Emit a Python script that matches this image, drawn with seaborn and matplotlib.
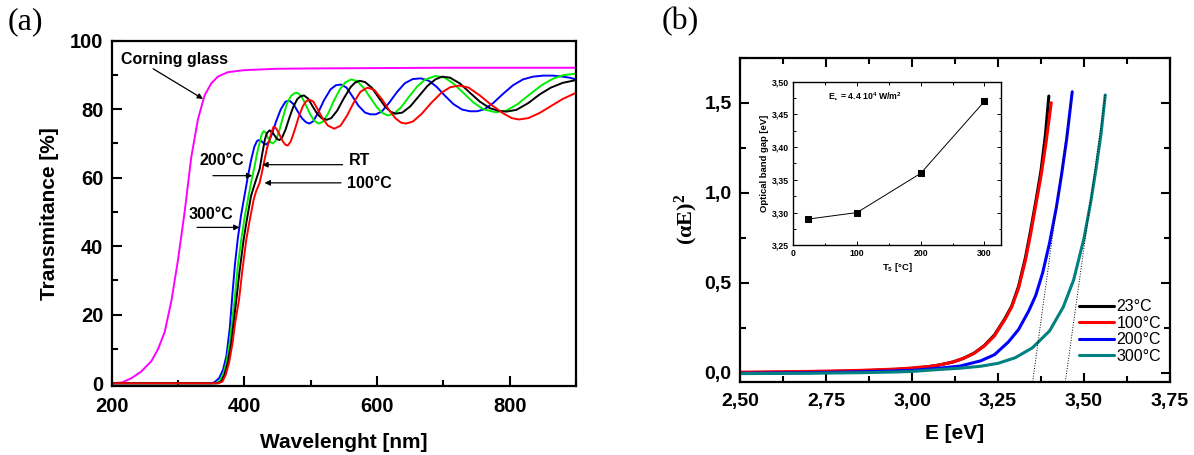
import matplotlib
matplotlib.use("Agg")
import matplotlib.pyplot as plt
import seaborn as sns
from matplotlib.ticker import MultipleLocator, FuncFormatter

# ---- (a) transmittance spectra ----
glass_nm = [200, 215, 230, 245, 260, 270, 280, 290, 300, 310, 320, 330, 340, 350, 360, 375, 400, 450, 500, 600, 700, 800, 900]
glass_T = [0, 0.2, 1.5, 3.5, 6.5, 10, 15, 24, 36, 50, 66, 77, 84, 87.5, 89.5, 90.8, 91.4, 91.8, 91.9, 92.0, 92.1, 92.1, 92.1]

t300_nm = [200, 350, 355, 362, 368, 373, 378, 382, 386, 390, 395, 400, 405, 410, 415, 419, 422, 426, 430, 433, 437, 442, 448, 455, 462, 468, 474, 480, 487, 493, 498, 504, 512, 520, 530, 538, 546, 554, 562, 572, 582, 590, 598, 607, 618, 630, 642, 654, 666, 678, 690, 702, 715, 728, 740, 751, 762, 775, 790, 805, 820, 835, 850, 865, 880, 890, 900]
t300_T = [0, 0, 0.3, 1.5, 4, 8, 16, 26, 35, 42, 49, 54.5, 60, 65, 69, 70.7, 71, 70.6, 69.9, 69.7, 70.5, 73, 76.5, 80, 82.2, 82.5, 81.5, 79.5, 77.3, 76.2, 75.8, 76.5, 79.3, 82.6, 85.8, 87, 87.2, 86.3, 84, 81, 79, 78.5, 78.5, 79.3, 81.8, 85, 87.6, 88.8, 89, 88.3, 86.5, 84, 81.5, 79.9, 79.4, 79.4, 80, 81.8, 84.5, 87, 88.7, 89.5, 89.8, 89.8, 89.5, 89.2, 88.7]

t200_nm = [200, 356, 362, 368, 373, 378, 382, 385.3, 390, 395.4, 400, 405.3, 410, 415.4, 419, 423, 426, 429, 432, 436, 440, 443, 447, 452, 458, 464, 470, 475, 480, 486, 492, 499, 505, 512, 518, 526, 535, 544, 552, 561, 570, 580, 590, 600, 608, 616, 625, 636, 648, 660, 672, 688, 702, 715, 730, 745, 760, 779, 795, 812, 830, 848, 865, 880, 900]
t200_T = [0, 0, 0.5, 2.5, 6, 12, 19, 24.4, 34, 42, 48, 53.6, 58.5, 63.3, 67, 70.2, 72.5, 73.6, 73.2, 71.5, 70.3, 70, 70.8, 73.3, 77.5, 81.5, 83.8, 84.6, 84.8, 83.8, 81.5, 78.6, 76.7, 75.8, 76.3, 78.6, 82.5, 85.8, 87.8, 88.7, 88.2, 86.2, 83.3, 80.5, 78.9, 78.2, 78.6, 80.5, 83.6, 86.5, 88.6, 89.7, 89.2, 87.5, 84.8, 82, 80, 79.1, 79.6, 81.5, 84.3, 87, 88.9, 89.9, 90.4]

rt_nm = [200, 359, 365, 370, 375, 380, 384, 388, 393, 399, 404, 410, 415, 419, 423, 427, 431, 434, 438, 442, 446, 450, 453, 457, 462, 468, 474, 480, 485, 490, 496, 503, 510, 517, 524, 531, 540, 550, 560, 567, 574, 582, 592, 602, 612, 620, 628, 638, 650, 663, 676, 688, 698, 710, 725, 740, 755, 770, 784, 795, 810, 828, 845, 862, 880, 900]
rt_T = [0, 0, 0.5, 2.5, 6, 11.5, 18, 24.4, 33, 42, 48, 54.6, 57.8, 60.2, 62.5, 67, 71.2, 73, 73.8, 73.3, 72.2, 71.2, 71, 71.8, 74, 77.6, 80.8, 83, 83.8, 84, 83.1, 80.8, 78.6, 77.3, 76.9, 77.4, 79.6, 83.2, 86.4, 87.8, 88.3, 87.9, 86.3, 83.5, 80.8, 79.3, 78.7, 79, 80.8, 83.8, 86.8, 88.7, 89.5, 89.2, 87.5, 84.8, 82.2, 80.3, 79.5, 79.3, 79.8, 81.8, 84.3, 86.3, 87.7, 88.5]

t100_nm = [200, 361, 367, 372, 377, 382, 386, 392, 397, 403, 408, 414, 418, 423, 427, 430.5, 434, 438, 441, 444, 448, 453, 458, 462, 465.5, 470, 476, 482, 488, 493, 498, 504, 511, 518, 526, 535.6, 545, 555, 565, 575, 585.7, 596, 607, 618, 628, 636, 643.4, 654, 667, 682, 697, 710, 723.5, 738, 755, 772, 790, 803, 813.7, 828, 845, 862, 880, 900]
t100_T = [0, 0, 0.5, 2.5, 6, 11.5, 17.5, 24.4, 33, 42, 47.5, 53.6, 56.2, 58.5, 62, 65.3, 68.5, 71.1, 73.3, 74.9, 74.4, 72.6, 70.6, 69.6, 69.4, 70.6, 74, 77.8, 80.8, 82.3, 82.8, 82.2, 79.8, 77.3, 75.2, 74.3, 75.2, 78.2, 82, 85.1, 86.3, 85.6, 83, 79.8, 77.3, 76.1, 75.8, 76.4, 78.6, 81.9, 84.8, 86.4, 86.9, 86.3, 84, 81.3, 78.8, 77.4, 77, 77.4, 78.9, 80.9, 83, 84.8]

# ---- (b) (alpha E)^2 vs photon energy ----
e23 = [2.50, 2.70, 2.85, 2.95, 3.00, 3.05, 3.08, 3.12, 3.15, 3.18, 3.21, 3.24, 3.27, 3.29, 3.31, 3.33, 3.345, 3.36, 3.375, 3.388, 3.398]
a23 = [0.0, 0.004, 0.01, 0.018, 0.024, 0.034, 0.043, 0.06, 0.08, 0.108, 0.15, 0.21, 0.3, 0.37, 0.48, 0.64, 0.79, 0.95, 1.12, 1.32, 1.537]
e100 = [2.50, 2.70, 2.85, 2.95, 3.00, 3.05, 3.08, 3.12, 3.15, 3.18, 3.21, 3.24, 3.27, 3.29, 3.31, 3.33, 3.345, 3.36, 3.375, 3.39, 3.405]
a100 = [0.003, 0.007, 0.013, 0.02, 0.026, 0.035, 0.043, 0.06, 0.08, 0.107, 0.148, 0.205, 0.295, 0.365, 0.47, 0.625, 0.77, 0.93, 1.09, 1.28, 1.50]
e200 = [2.50, 2.70, 2.85, 2.95, 3.00, 3.08, 3.14, 3.20, 3.24, 3.28, 3.31, 3.34, 3.36, 3.38, 3.40, 3.42, 3.435, 3.45, 3.466]
a200 = [-0.003, 0.0, 0.005, 0.01, 0.013, 0.025, 0.037, 0.066, 0.1, 0.17, 0.24, 0.345, 0.43, 0.555, 0.72, 0.92, 1.1, 1.3, 1.561]
e300 = [2.50, 2.70, 2.85, 2.95, 3.00, 3.08, 3.14, 3.20, 3.25, 3.30, 3.35, 3.40, 3.44, 3.47, 3.50, 3.52, 3.535, 3.55, 3.562]
a300 = [-0.005, -0.003, 0.0, 0.004, 0.007, 0.018, 0.025, 0.036, 0.052, 0.083, 0.138, 0.232, 0.365, 0.515, 0.745, 0.95, 1.13, 1.33, 1.543]

# linear extrapolations (dotted)
fit200_E = [3.351, 3.466]
fit200_y = [-0.05, 1.56]
fit300_E = [3.446, 3.562]
fit300_y = [-0.05, 1.543]

# inset: band gap vs substrate temperature
ts = [23, 100, 200, 300]
gap = [3.29, 3.30, 3.36, 3.47]

sns.set_style("ticks")
plt.rcParams['font.family'] = ['Liberation Sans', 'DejaVu Sans']
plt.rcParams['font.weight'] = 'bold'
plt.rcParams['mathtext.default'] = 'regular'
for k in ['text.color', 'axes.labelcolor', 'xtick.color', 'ytick.color', 'axes.edgecolor']:
    plt.rcParams[k] = 'black'

fig = plt.figure(figsize=(11.94, 4.55), dpi=100)
ax_a = fig.add_axes([0.0935, 0.1516, 0.389, 0.759])
ax_b = fig.add_axes([0.6198, 0.1611, 0.360, 0.712])
ax_in = fig.add_axes([0.6644, 0.4609, 0.174, 0.3596])

# ---------------- panel (a) ----------------
series_a = [
    (glass_nm, glass_T, '#ff00ff'),
    (t300_nm, t300_T, '#0000ff'),
    (t200_nm, t200_T, '#00ee00'),
    (rt_nm, rt_T, 'black'),
    (t100_nm, t100_T, '#ff0000'),
]
for x, y, c in series_a:
    sns.lineplot(x=x, y=y, color=c, lw=1.4, ax=ax_a, sort=False, estimator=None)

ax_a.set_xlim(200, 900)
ax_a.set_ylim(-0.8, 100)
ax_a.xaxis.set_major_locator(MultipleLocator(200))
ax_a.xaxis.set_minor_locator(MultipleLocator(100))
ax_a.yaxis.set_major_locator(MultipleLocator(20))
ax_a.yaxis.set_minor_locator(MultipleLocator(10))
ax_a.tick_params(which='both', direction='in', width=1.5, labelsize=14.5, pad=6)
ax_a.tick_params(which='major', length=7)
ax_a.tick_params(which='minor', length=4.5)
ax_a.tick_params(axis='x', pad=8)
for s in ax_a.spines.values():
    s.set_linewidth(1.6)
ax_a.set_xlabel("Wavelenght [nm]", fontsize=15, fontweight='bold', labelpad=12)
ax_a.set_ylabel("Transmitance [%]", fontsize=15, fontweight='bold', labelpad=8)

arrow = dict(arrowstyle='-|>', color='black', lw=0.9, mutation_scale=8, shrinkA=0, shrinkB=0)
ax_a.text(214, 94.5, "Corning glass", fontsize=11.5, fontweight='bold', ha='left', va='center')
ax_a.annotate("", xy=(337.7, 83.0), xytext=(262.5, 91.8), arrowprops=arrow)
ax_a.text(366.5, 64.9, "200°C", fontsize=11.5, fontweight='bold', ha='center', va='center')
ax_a.annotate("", xy=(412, 60.6), xytext=(352.7, 60.6), arrowprops=arrow)
ax_a.text(558, 65, "RT", fontsize=11.5, fontweight='bold', ha='left', va='center')
ax_a.annotate("", xy=(427, 63.8), xytext=(548, 63.8), arrowprops=arrow)
ax_a.text(555, 58.4, "100°C", fontsize=11.5, fontweight='bold', ha='left', va='center')
ax_a.annotate("", xy=(430.4, 58.5), xytext=(545.7, 58.5), arrowprops=arrow)
ax_a.text(350.2, 49.4, "300°C", fontsize=11.5, fontweight='bold', ha='center', va='center')
ax_a.annotate("", xy=(392.8, 45.5), xytext=(328.7, 45.5), arrowprops=arrow)

# ---------------- panel (b) ----------------
series_b = [
    (e23, a23, 'black', '23°C'),
    (e100, a100, '#ff0000', '100°C'),
    (e200, a200, '#0000ff', '200°C'),
    (e300, a300, '#008080', '300°C'),
]
for x, y, c, lab in series_b:
    sns.lineplot(x=x, y=y, color=c, lw=2.2, ax=ax_b, sort=False, estimator=None, label=lab)
sns.lineplot(x=fit200_E, y=fit200_y, color='black', lw=0.7, ls=':', ax=ax_b, estimator=None)
sns.lineplot(x=fit300_E, y=fit300_y, color='black', lw=0.7, ls=':', ax=ax_b, estimator=None)

ax_b.set_xlim(2.5, 3.75)
ax_b.set_ylim(-0.05, 1.75)
ax_b.xaxis.set_major_locator(MultipleLocator(0.25))
ax_b.xaxis.set_minor_locator(MultipleLocator(0.125))
ax_b.yaxis.set_major_locator(MultipleLocator(0.5))
ax_b.yaxis.set_minor_locator(MultipleLocator(0.25))
ax_b.xaxis.set_major_formatter(FuncFormatter(lambda v, p: f"{v:.2f}".replace('.', ',')))
ax_b.yaxis.set_major_formatter(FuncFormatter(lambda v, p: f"{v:.1f}".replace('.', ',')))
ax_b.tick_params(which='both', direction='in', width=1.5, labelsize=14, top=True, right=True, pad=6)
ax_b.tick_params(which='major', length=6.5)
ax_b.tick_params(which='minor', length=4)
ax_b.tick_params(axis='x', pad=8)
for s in ax_b.spines.values():
    s.set_linewidth(1.6)
ax_b.set_xlabel("E [eV]", fontsize=15, fontweight='bold', labelpad=10)
ax_b.set_ylabel("(αE)$^{2}$", fontsize=16, fontweight='bold',
                family=['Liberation Serif', 'DejaVu Serif'], labelpad=3)

leg = ax_b.legend(loc='lower right', bbox_to_anchor=(0.995, 0.035), frameon=False,
                  handlelength=2.2, handletextpad=0.15, labelspacing=0.1,
                  borderaxespad=0, prop={'weight': 'normal', 'size': 11.5})
for line in leg.get_lines():
    line.set_linewidth(2.2)

# ---------------- inset ----------------
sns.lineplot(x=ts, y=gap, color='black', lw=0.7, marker='s', markersize=5,
             markeredgecolor='black', ax=ax_in, estimator=None)
ax_in.set_xlim(0, 326)
ax_in.set_ylim(3.25, 3.50)
ax_in.xaxis.set_major_locator(MultipleLocator(100))
ax_in.xaxis.set_minor_locator(MultipleLocator(50))
ax_in.yaxis.set_major_locator(MultipleLocator(0.05))
ax_in.yaxis.set_minor_locator(MultipleLocator(0.025))
ax_in.yaxis.set_major_formatter(FuncFormatter(lambda v, p: f"{v:.2f}".replace('.', ',')))
ax_in.tick_params(which='both', direction='in', width=0.7, labelsize=6.3, top=True, right=True, pad=3)
ax_in.tick_params(which='major', length=3)
ax_in.tick_params(which='minor', length=1.8)
for s in ax_in.spines.values():
    s.set_linewidth(1.0)
ax_in.set_xlabel("T$_s$ [°C]", fontsize=6.8, fontweight='bold', labelpad=2)
ax_in.set_ylabel("Optical band gap [eV]", fontsize=6.8, fontweight='bold', labelpad=2)
ax_in.text(54, 3.478, "E$_{\u2022}$ = 4.4 10$^{4}$ W/m$^{2}$", fontsize=6.3, fontweight='bold',
           ha='left', va='center')

fig.text(8 / 1194, 1 - 22 / 455, "(a)", fontsize=23, fontweight='normal',
         family=['Liberation Serif', 'DejaVu Serif'], ha='left', va='center')
fig.text(662 / 1194, 1 - 22 / 455, "(b)", fontsize=23, fontweight='normal',
         family=['Liberation Serif', 'DejaVu Serif'], ha='left', va='center')

fig.savefig("out.png", dpi=100)
